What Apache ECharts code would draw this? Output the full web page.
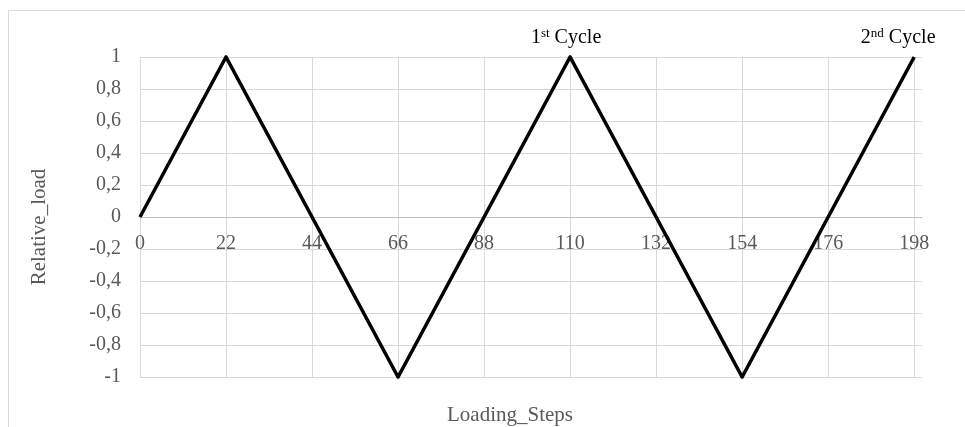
<!DOCTYPE html>
<html>
<head>
<meta charset="utf-8">
<script src="https://cdn.jsdelivr.net/npm/echarts@6/dist/echarts.min.js"></script>
<style>
  html, body { margin: 0; padding: 0; background: #fff; }
  #chart { width: 965px; height: 427px; }
</style>
</head>
<body>
<div id="chart"></div>
<script>
// triangle load path (vertices only)
const steps = [0, 22, 66, 110, 154, 198]
const relLoad = [0, 1, -1, 1, -1, 1]
// cycle labels sit on these vertices
const cycleSteps = [110, 198]
const cycleLabels = ['{n|1}{s|st}{n| Cycle}', '{n|2}{s|nd}{n| Cycle}']

const FONT = '"Liberation Serif", "Times New Roman", serif'
const GRAY = '#595959'
const GRID = '#d9d9d9'

const seriesData = steps.map((x, i) => {
  const k = cycleSteps.indexOf(x)
  if (k < 0) return [x, relLoad[i]]
  return {
    value: [x, relLoad[i]],
    label: {
      show: true,
      position: 'top',
      distance: 8,
      offset: k === 1 ? [-16, 0] : [-4, 0],
      formatter: cycleLabels[k],
      rich: {
        n: { fontFamily: FONT, fontSize: 20, color: '#000', lineHeight: 22 },
        s: { fontFamily: FONT, fontSize: 13, color: '#000', verticalAlign: 'top', lineHeight: 22 }
      }
    }
  }
})

const chart = echarts.init(document.getElementById('chart'), null, { renderer: 'canvas' })

// plot is 320px tall, y = 0 sits 160px above the bottom edge
chart.setOption({
  animation: false,
  backgroundColor: '#fff',
  textStyle: { fontFamily: FONT },
  graphic: [{
    type: 'rect',
    silent: true,
    shape: { x: 8.5, y: 10.5, width: 1000, height: 600 },
    style: { fill: 'none', stroke: GRID, lineWidth: 1 }
  }],
  grid: { left: 140, right: 43, top: 57, bottom: 50, containLabel: false, outerBoundsMode: 'none' },
  xAxis: {
    type: 'value',
    min: 0,
    max: 200,
    interval: 22,
    offset: -160,
    name: 'Loading_Steps',
    nameLocation: 'middle',
    nameGap: 188,
    nameTextStyle: { fontFamily: FONT, fontSize: 21, color: GRAY, padding: [0, 42, 0, 0] },
    axisLine: { show: true, onZero: false, lineStyle: { color: '#bfbfbf', width: 1 } },
    axisTick: { show: false },
    axisLabel: {
      fontFamily: FONT, fontSize: 20, color: GRAY, margin: 17,
      formatter: v => (v > 198 ? '' : String(v))
    },
    splitLine: { show: true, showMaxLine: false, lineStyle: { color: GRID, width: 1 } }
  },
  yAxis: {
    type: 'value',
    min: -1,
    max: 1,
    interval: 0.2,
    name: 'Relative_load',
    nameLocation: 'middle',
    nameGap: 90,
    nameTextStyle: { fontFamily: FONT, fontSize: 21, color: GRAY, padding: [0, 20, 0, 0] },
    axisLine: { show: false },
    axisTick: { show: false },
    axisLabel: {
      fontFamily: FONT, fontSize: 20, color: GRAY, margin: 19,
      formatter: v => String(Math.round(v * 10) / 10).replace('.', ',')
    },
    splitLine: { show: true, lineStyle: { color: GRID, width: 1 } }
  },
  series: [{
    type: 'line',
    data: seriesData,
    symbol: 'circle',
    symbolSize: 0,
    showSymbol: true,
    lineStyle: { color: '#000', width: 3.5, join: 'miter' },
    itemStyle: { color: '#000' },
    z: 5
  }]
})
</script>
</body>
</html>
